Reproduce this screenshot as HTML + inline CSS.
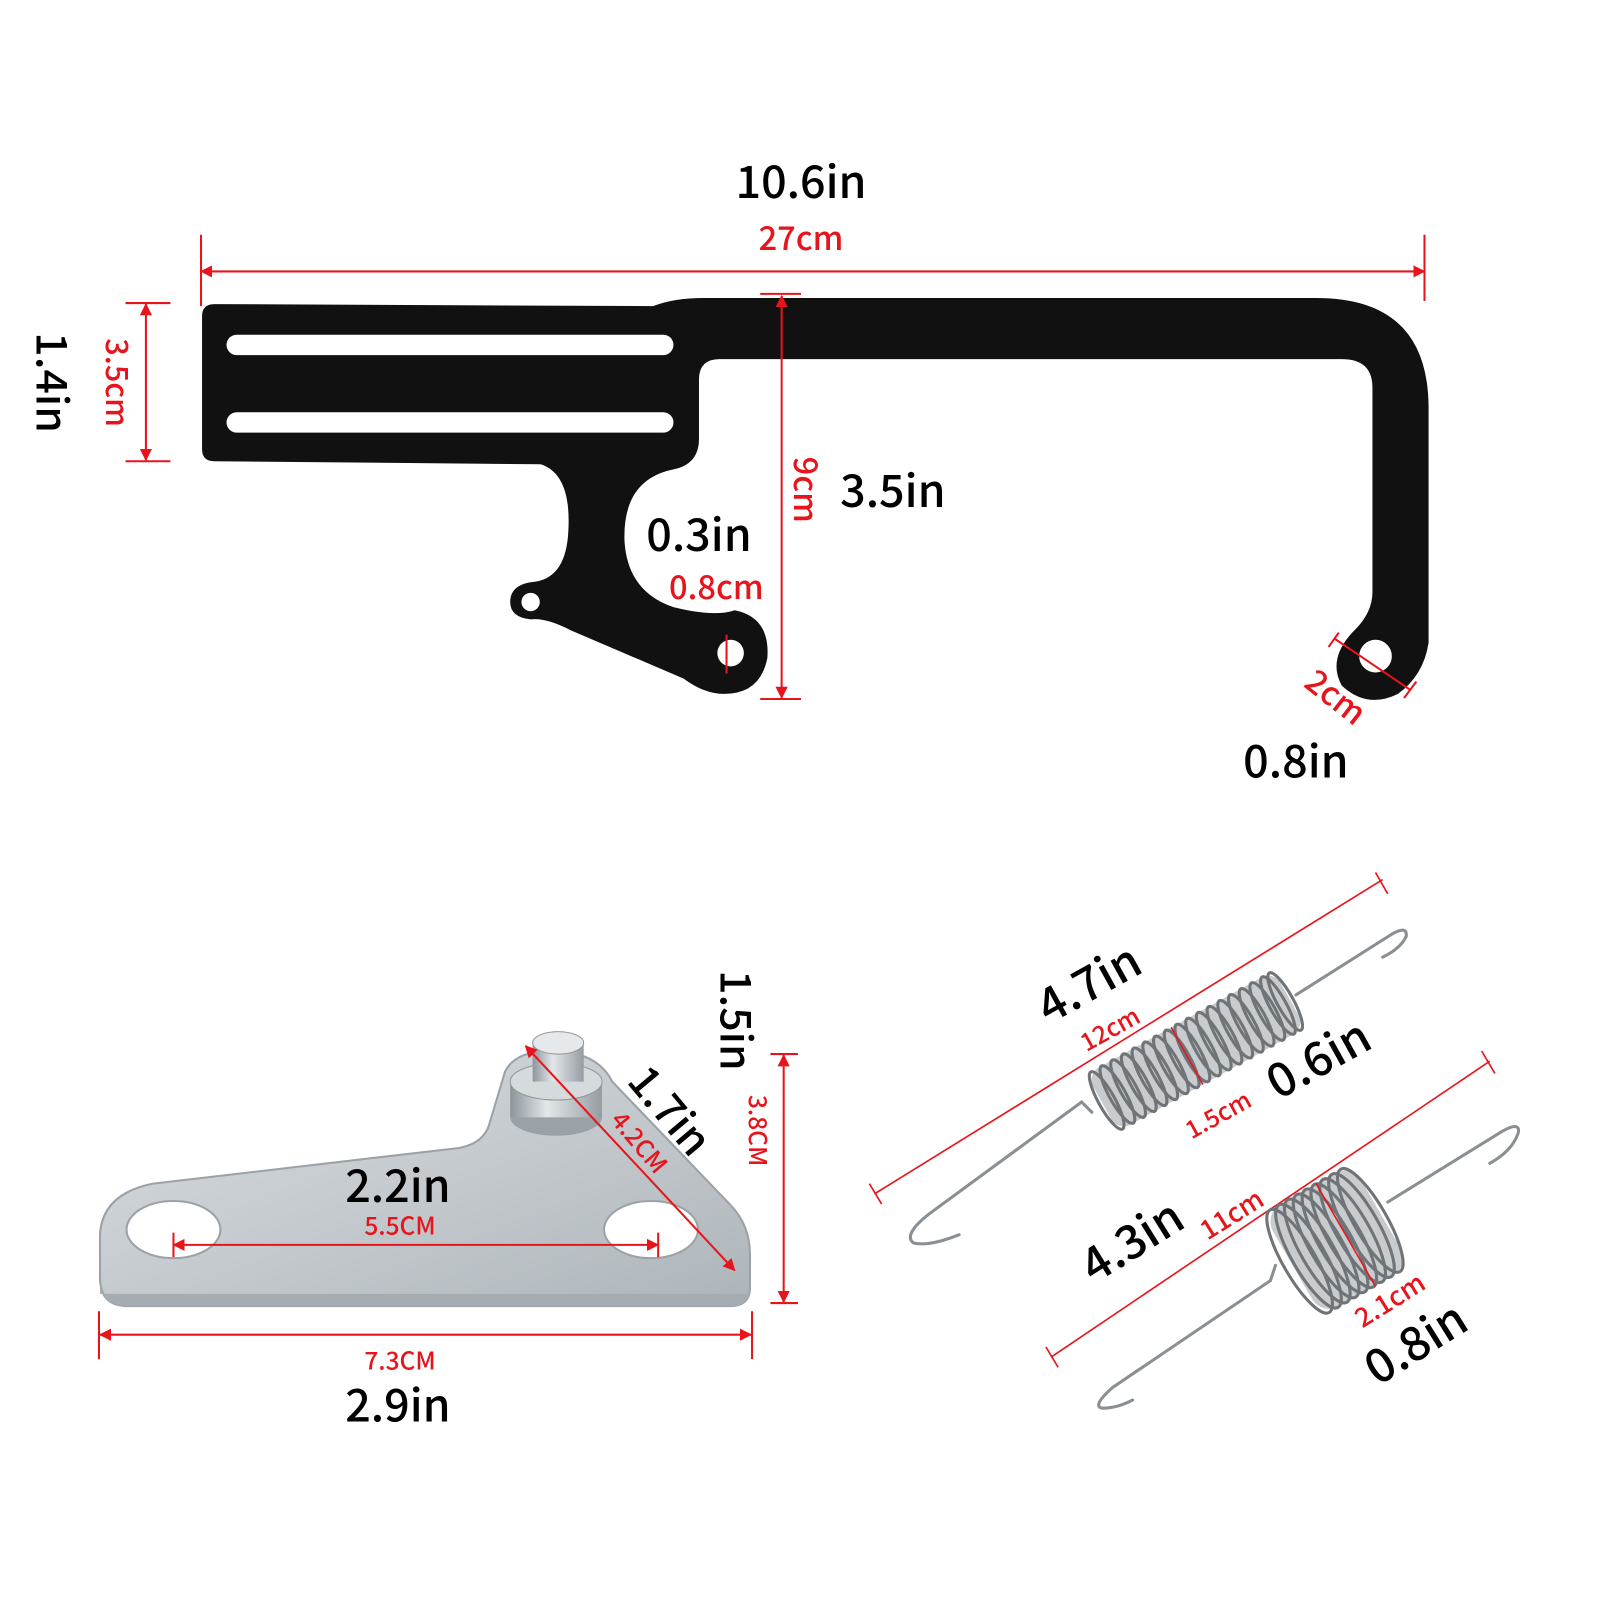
<!DOCTYPE html>
<html><head><meta charset="utf-8"><style>
html,body{margin:0;padding:0;background:#fff;}
svg{display:block}
text{font-family:"Noto Sans CJK SC","Liberation Sans",sans-serif;font-weight:500}
.r{font-weight:500}
</style></head><body>
<svg width="1600" height="1600" viewBox="0 0 1568 1568" xmlns="http://www.w3.org/2000/svg">
<defs>
<marker id="a" markerWidth="12" markerHeight="12" refX="11" refY="6" orient="auto-start-reverse" markerUnits="userSpaceOnUse" viewBox="0 0 12 12"><path d="M0,0 L12,6 L0,12 Z" fill="#e8141b"/></marker>
<linearGradient id="sil" x1="0" y1="0" x2="1" y2="1"><stop offset="0" stop-color="#d9dde0"/><stop offset="0.5" stop-color="#c4cace"/><stop offset="1" stop-color="#aeb5ba"/></linearGradient>
<linearGradient id="cyl" x1="0" y1="0" x2="1" y2="0"><stop offset="0" stop-color="#8d959b"/><stop offset="0.4" stop-color="#e3e7ea"/><stop offset="1" stop-color="#959ca2"/></linearGradient>
</defs>
<rect width="1568" height="1568" fill="#fff"/>

<path d="M210 298 L640 300 Q660 292 690 292 L1290 292 Q1400 292 1400 400 L1400 630 Q1395 662 1370 680 Q1340 695 1315 672 Q1300 645 1328 617 Q1345 600 1345 580 L1345 380 Q1345 352 1315 352 L705 352 Q685 352 685 372 L685 430 Q685 455 660 460 Q610 470 612 530 Q615 580 660 595 Q700 605 720 598 Q755 605 752 645 Q745 680 710 680 Q690 680 670 665 L560 618 Q535 605 520 607 Q500 605 500 590 Q500 572 525 570 Q555 565 557 520 Q560 465 530 455 L210 452 Q198 452 198 440 L198 310 Q198 298 210 298 Z" fill="#111"/>
<rect x="222" y="328" width="438" height="20" rx="10" fill="#fff"/>
<rect x="222" y="404" width="438" height="20" rx="10" fill="#fff"/>
<circle cx="716" cy="640" r="13" fill="#fff"/>
<circle cx="1348" cy="643" r="16" fill="#fff"/>
<circle cx="520" cy="590" r="9" fill="#fff"/>

<g stroke="#e8141b" stroke-width="2" fill="none">
<line x1="197" y1="266" x2="1396" y2="266" marker-start="url(#a)" marker-end="url(#a)"/>
<line x1="197" y1="230" x2="197" y2="300"/><line x1="1396" y1="230" x2="1396" y2="295"/>
<line x1="143" y1="298" x2="143" y2="451" marker-start="url(#a)" marker-end="url(#a)"/>
<line x1="123" y1="297" x2="167" y2="297"/><line x1="123" y1="452" x2="167" y2="452"/>
<line x1="766" y1="290" x2="766" y2="684" marker-start="url(#a)" marker-end="url(#a)"/>
<line x1="745" y1="288" x2="785" y2="288"/><line x1="745" y1="685" x2="785" y2="685"/>
<line x1="712" y1="622" x2="712" y2="660"/>
<line x1="1308" y1="626" x2="1382" y2="676"/>
<line x1="1302" y1="634" x2="1312" y2="620"/><line x1="1376" y1="684" x2="1388" y2="668"/>
</g>
<text x="785" y="194" font-size="44" text-anchor="middle">10.6in</text>
<text class="r" x="785" y="245" font-size="32" text-anchor="middle" fill="#e8141b">27cm</text>
<text transform="translate(36,375) rotate(90)" font-size="42" text-anchor="middle">1.4in</text>
<text class="r" transform="translate(104,375) rotate(90)" font-size="30" text-anchor="middle" fill="#e8141b">3.5cm</text>
<text class="r" transform="translate(778,480) rotate(90)" font-size="32" text-anchor="middle" fill="#e8141b">9cm</text>
<text x="875" y="497" font-size="44" text-anchor="middle">3.5in</text>
<text x="685" y="540" font-size="44" text-anchor="middle">0.3in</text>
<text class="r" x="702" y="587" font-size="32" text-anchor="middle" fill="#e8141b">0.8cm</text>
<text class="r" transform="translate(1302,692) rotate(38)" font-size="32" text-anchor="middle" fill="#e8141b">2cm</text>
<text x="1270" y="762" font-size="44" text-anchor="middle">0.8in</text>

<path d="M150 1160 L450 1125 Q475 1120 480 1100 L495 1050 Q505 1030 540 1030 Q585 1030 600 1060 L715 1180 Q735 1200 735 1230 L735 1262 Q735 1280 715 1280 L125 1280 Q98 1280 98 1252 L98 1210 Q100 1170 150 1160 Z" fill="url(#sil)" stroke="#9aa2a8" stroke-width="2"/>
<path d="M98 1252 Q98 1280 125 1280 L715 1280 Q735 1280 735 1262 L735 1268 L98 1268 Z" fill="#a6adb2"/>
<ellipse cx="170" cy="1205" rx="46" ry="28" fill="#fff" stroke="#9aa2a8" stroke-width="2"/>
<ellipse cx="638" cy="1205" rx="46" ry="28" fill="#fff" stroke="#9aa2a8" stroke-width="2"/>
<ellipse cx="545" cy="1095" rx="45" ry="18" fill="#9aa2a8"/>
<rect x="500" y="1060" width="90" height="35" fill="url(#cyl)"/>
<ellipse cx="545" cy="1060" rx="45" ry="18" fill="#d5dadd" stroke="#8f979d"/>
<rect x="522" y="1022" width="50" height="38" fill="url(#cyl)"/>
<ellipse cx="547" cy="1022" rx="25" ry="11" fill="#e6e9eb" stroke="#8f979d"/>
<g stroke="#e8141b" stroke-width="2" fill="none">
<line x1="170" y1="1220" x2="645" y2="1220" marker-start="url(#a)" marker-end="url(#a)"/>
<line x1="170" y1="1208" x2="170" y2="1232"/><line x1="645" y1="1208" x2="645" y2="1232"/>
<line x1="515" y1="1025" x2="720" y2="1245" marker-start="url(#a)" marker-end="url(#a)"/>
<line x1="768" y1="1034" x2="768" y2="1276" marker-start="url(#a)" marker-end="url(#a)"/>
<line x1="755" y1="1033" x2="782" y2="1033"/><line x1="755" y1="1277" x2="782" y2="1277"/>
<line x1="98" y1="1308" x2="736" y2="1308" marker-start="url(#a)" marker-end="url(#a)"/>
<line x1="97" y1="1285" x2="97" y2="1332"/><line x1="737" y1="1285" x2="737" y2="1332"/>
</g>
<text x="390" y="1178" font-size="44" text-anchor="middle">2.2in</text>
<text class="r" x="392" y="1210" font-size="24" text-anchor="middle" fill="#e8141b">5.5CM</text>
<text transform="translate(645,1098) rotate(50)" font-size="42" text-anchor="middle">1.7in</text>
<text class="r" transform="translate(620,1125) rotate(50)" font-size="24" text-anchor="middle" fill="#e8141b">4.2CM</text>
<text transform="translate(706,1000) rotate(90)" font-size="42" text-anchor="middle">1.5in</text>
<text class="r" transform="translate(734,1108) rotate(90)" font-size="24" text-anchor="middle" fill="#e8141b">3.8CM</text>
<text class="r" x="392" y="1342" font-size="24" text-anchor="middle" fill="#e8141b">7.3CM</text>
<text x="390" y="1393" font-size="44" text-anchor="middle">2.9in</text>

<g stroke="#e8141b" stroke-width="1.6" fill="none">
<line x1="857" y1="1170" x2="1355" y2="862"/>
<line x1="852" y1="1160" x2="864" y2="1180"/><line x1="1348" y1="855" x2="1360" y2="876"/>
<line x1="1030" y1="1330" x2="1460" y2="1040"/>
<line x1="1025" y1="1320" x2="1037" y2="1340"/><line x1="1452" y1="1030" x2="1465" y2="1052"/>
</g>
<g stroke="#8a8f93" stroke-width="3" fill="none" stroke-linecap="round">
<path d="M1070 1090 L1060 1080 L910 1190 Q885 1210 895 1218 Q910 1222 940 1210"/>
<path d="M1270 975 L1360 918 Q1380 905 1378 918 Q1372 930 1355 938"/>
<path d="M1250 1240 L1245 1255 L1090 1360 Q1070 1378 1080 1380 Q1095 1380 1110 1372"/>
<path d="M1360 1178 L1470 1110 Q1490 1098 1488 1110 Q1482 1128 1460 1140"/>
</g>
<g transform="translate(1172,1030) rotate(-29)">
<rect x="-105" y="-32" width="210" height="64" rx="14" fill="#c8ccce"/>
<g stroke="#6f7478" stroke-width="3" fill="none">
<ellipse cx="-100" cy="0" rx="8" ry="32"/><ellipse cx="-88" cy="0" rx="8" ry="32"/><ellipse cx="-76" cy="0" rx="8" ry="32"/><ellipse cx="-64" cy="0" rx="8" ry="32"/><ellipse cx="-52" cy="0" rx="8" ry="32"/><ellipse cx="-40" cy="0" rx="8" ry="32"/><ellipse cx="-28" cy="0" rx="8" ry="32"/><ellipse cx="-16" cy="0" rx="8" ry="32"/><ellipse cx="-4" cy="0" rx="8" ry="32"/><ellipse cx="8" cy="0" rx="8" ry="32"/><ellipse cx="20" cy="0" rx="8" ry="32"/><ellipse cx="32" cy="0" rx="8" ry="32"/><ellipse cx="44" cy="0" rx="8" ry="32"/><ellipse cx="56" cy="0" rx="8" ry="32"/><ellipse cx="68" cy="0" rx="8" ry="32"/><ellipse cx="80" cy="0" rx="8" ry="32"/><ellipse cx="92" cy="0" rx="8" ry="32"/><ellipse cx="100" cy="0" rx="8" ry="32"/>
</g>
<line x1="-10" y1="-32" x2="-10" y2="32" stroke="#e8141b" stroke-width="1.5"/>
</g>
<g transform="translate(1310,1215) rotate(-30)">
<rect x="-50" y="-58" width="100" height="116" rx="20" fill="#c8ccce"/>
<g stroke="#6f7478" stroke-width="3" fill="none">
<ellipse cx="-42" cy="0" rx="16" ry="58"/><ellipse cx="-32" cy="0" rx="16" ry="58"/><ellipse cx="-22" cy="0" rx="16" ry="58"/><ellipse cx="-12" cy="0" rx="16" ry="58"/><ellipse cx="-2" cy="0" rx="16" ry="58"/><ellipse cx="8" cy="0" rx="16" ry="58"/><ellipse cx="18" cy="0" rx="16" ry="58"/><ellipse cx="28" cy="0" rx="16" ry="58"/><ellipse cx="38" cy="0" rx="16" ry="58"/>
</g>
<line x1="10" y1="-58" x2="10" y2="58" stroke="#e8141b" stroke-width="1.5"/>
</g>
<text transform="translate(1075,978) rotate(-29)" font-size="46" text-anchor="middle">4.7in</text>
<text class="r" transform="translate(1092,1016) rotate(-29)" font-size="24" text-anchor="middle" fill="#e8141b">12cm</text>
<text class="r" transform="translate(1198,1100) rotate(-29)" font-size="24" text-anchor="middle" fill="#e8141b">1.5cm</text>
<text transform="translate(1300,1052) rotate(-29)" font-size="46" text-anchor="middle">0.6in</text>
<text transform="translate(1118,1230) rotate(-32)" font-size="46" text-anchor="middle">4.3in</text>
<text class="r" transform="translate(1212,1198) rotate(-32)" font-size="26" text-anchor="middle" fill="#e8141b">11cm</text>
<text class="r" transform="translate(1367,1282) rotate(-32)" font-size="26" text-anchor="middle" fill="#e8141b">2.1cm</text>
<text transform="translate(1396,1330) rotate(-32)" font-size="46" text-anchor="middle">0.8in</text>
</svg>
</body></html>
